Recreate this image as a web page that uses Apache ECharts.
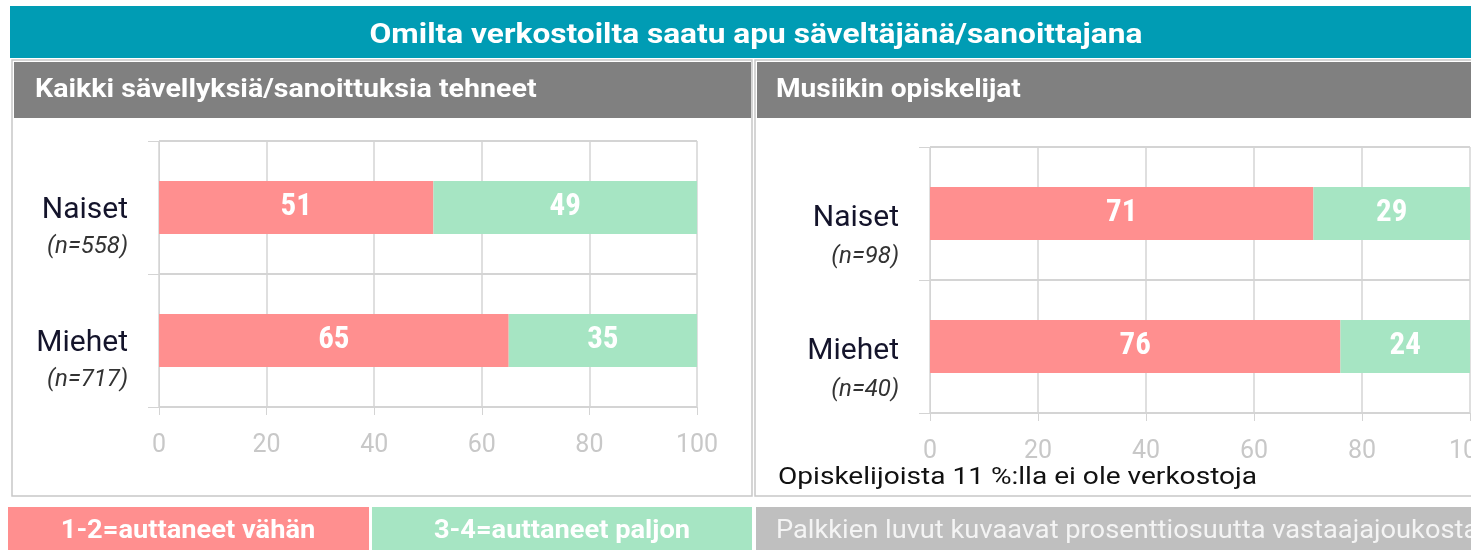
<!DOCTYPE html>
<html>
<head>
<meta charset="utf-8">
<script src="https://cdn.jsdelivr.net/npm/echarts@6/dist/echarts.min.js"></script>
<style>
  html, body { margin: 0; padding: 0; background: #fff; }
  #chart { width: 1471px; height: 550px; }
</style>
</head>
<body>
<div id="chart"></div>
<script>
// data
const categories = ['Naiset', 'Miehet'];
const leftN = ['558', '717'];
const rightN = ['98', '40'];
const leftLow = [51, 65];   // 1-2=auttaneet vähän
const leftHigh = [49, 35];  // 3-4=auttaneet paljon
const rightLow = [71, 76];
const rightHigh = [29, 24];
const seriesNames = ['1-2=auttaneet vähän', '3-4=auttaneet paljon'];

const FONT = "Roboto,'Noto Sans',sans-serif";
const NARROW = "'Roboto Condensed',Roboto,sans-serif";
const RED = '#FF8F8F';
const GREEN = '#A6E5C3';
const GRIDC = '#d4d4d4';

function catAxis(idx, nList, lh, shift) {
  return {
    type: 'category',
    gridIndex: idx,
    inverse: true,
    data: categories,
    axisLine: { show: true, lineStyle: { color: GRIDC } },
    axisTick: { show: true, length: 11, lineStyle: { color: GRIDC } },
    splitLine: { show: true, lineStyle: { color: GRIDC, width: 2 } },
    axisLabel: {
      margin: 31,
      align: 'right',
      formatter: (v, i) => '{a|' + v + '}\n{b|(n=' + nList[i] + ')}',
      rich: {
        a: { fontFamily: FONT, fontSize: 30, color: '#14142b', lineHeight: lh, align: 'right' },
        b: { fontFamily: FONT, fontSize: 24, fontStyle: 'italic', color: '#333', lineHeight: lh, align: 'right' }
      },
      padding: [lh + shift, 0, 0, 0]
    }
  };
}

function valAxis(idx) {
  return {
    type: 'value',
    gridIndex: idx,
    min: 0, max: 100, interval: 20,
    axisLine: { show: false },
    axisTick: { show: true, length: 8, lineStyle: { color: GRIDC } },
    splitLine: { show: true, lineStyle: { color: GRIDC, width: 1.5 } },
    axisLabel: { fontFamily: FONT, fontSize: 25, color: '#c8c8c8', margin: 26 }
  };
}

function barSeries(name, data, color, idx, stack) {
  return {
    name: name,
    type: 'bar',
    stack: stack,
    xAxisIndex: idx, yAxisIndex: idx,
    data: data,
    barWidth: 53,
    itemStyle: { color: color },
    label: {
      show: true, position: 'inside',
      fontFamily: NARROW, fontSize: 31, fontWeight: 'bold', color: '#fff'
    }
  };
}

const chart = echarts.init(document.getElementById('chart'));
chart.setOption({
  animation: false,
  grid: [
    { left: 159, top: 141, width: 538, height: 266, outerBoundsMode: 'none' },
    { left: 930, top: 147, width: 540, height: 266, outerBoundsMode: 'none' }
  ],
  xAxis: [valAxis(0), valAxis(1)],
  yAxis: [catAxis(0, leftN, 36, 6), catAxis(1, rightN, 38, 10)],
  series: [
    barSeries(seriesNames[0], leftLow, RED, 0, 'l'),
    barSeries(seriesNames[1], leftHigh, GREEN, 0, 'l'),
    barSeries(seriesNames[0], rightLow, RED, 1, 'r'),
    barSeries(seriesNames[1], rightHigh, GREEN, 1, 'r')
  ],
  graphic: [
    // title bar
    { type: 'rect', z: -1, shape: { x: 10, y: 6, width: 1461, height: 52 }, style: { fill: '#009CB4' } },
    { type: 'text', x: 756, y: 36, scaleX: 1.13, style: { text: 'Omilta verkostoilta saatu apu säveltäjänä/sanoittajana',
      font: "bold 28px " + FONT, fill: '#fff', align: 'center', verticalAlign: 'middle' } },
    // panel borders
    { type: 'rect', z: -1, shape: { x: 12, y: 60, width: 740, height: 436 }, style: { fill: 'none', stroke: '#c8c8c8', lineWidth: 1.5 } },
    { type: 'rect', z: -1, shape: { x: 755, y: 60, width: 730, height: 436 }, style: { fill: 'none', stroke: '#c8c8c8', lineWidth: 1.5 } },
    // panel headers
    { type: 'rect', z: -1, shape: { x: 14, y: 62, width: 737, height: 56 }, style: { fill: '#808080' } },
    { type: 'text', x: 35, y: 90, scaleX: 1.1, style: { text: 'Kaikki sävellyksiä/sanoittuksia tehneet',
      font: "bold 26px " + FONT, fill: '#fff', verticalAlign: 'middle' } },
    { type: 'rect', z: -1, shape: { x: 757, y: 62, width: 714, height: 56 }, style: { fill: '#808080' } },
    { type: 'text', x: 776, y: 90, scaleX: 1.08, style: { text: 'Musiikin opiskelijat',
      font: "bold 26px " + FONT, fill: '#fff', verticalAlign: 'middle' } },
    // note
    { type: 'text', x: 778, y: 478, scaleX: 1.17, style: { text: 'Opiskelijoista 11 %:lla ei ole verkostoja',
      font: "24px " + FONT, fill: '#111', verticalAlign: 'middle' } },
    // legend boxes
    { type: 'rect', shape: { x: 8, y: 507, width: 361, height: 43 }, style: { fill: RED } },
    { type: 'text', x: 188, y: 532, scaleX: 1.09, style: { text: seriesNames[0], font: "bold 25px " + FONT, fill: '#fff', align: 'center', verticalAlign: 'middle' } },
    { type: 'rect', shape: { x: 372, y: 507, width: 380, height: 43 }, style: { fill: GREEN } },
    { type: 'text', x: 562, y: 532, scaleX: 1.09, style: { text: seriesNames[1], font: "bold 25px " + FONT, fill: '#fff', align: 'center', verticalAlign: 'middle' } },
    { type: 'rect', shape: { x: 756, y: 507, width: 715, height: 43 }, style: { fill: '#BFBFBF' } },
    { type: 'text', x: 776, y: 532, scaleX: 1.09, style: { text: 'Palkkien luvut kuvaavat prosenttiosuutta vastaajajoukosta',
      font: "25px " + FONT, fill: '#f4f4f4', verticalAlign: 'middle' } }
  ]
});
</script>
</body>
</html>
